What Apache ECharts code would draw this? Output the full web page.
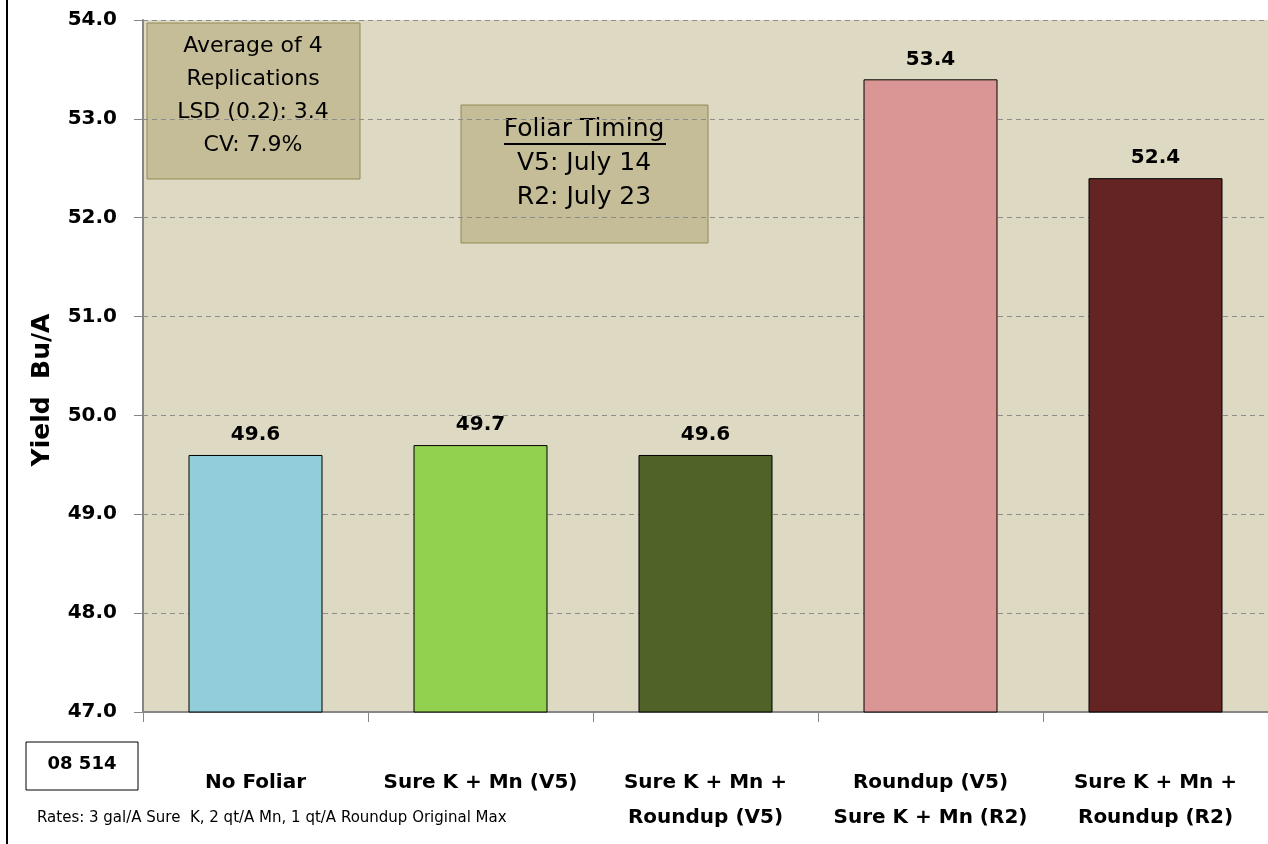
<!DOCTYPE html>
<html lang="en">

<head>
    <meta charset="UTF-8">
    <title>Yield Bu/A</title>
    <script src="https://cdn.jsdelivr.net/npm/echarts@6/dist/echarts.min.js"></script>
    <style>
        body { margin: 0; background: #ffffff; }
        #main { width: 1268px; height: 844px; }
    </style>
</head>

<body>
    <div id="main"></div>

    <script type="text/javascript">
        // 类别
        var categories = ['No Foliar', 'Sure K + Mn (V5)', 'Sure K + Mn +\nRoundup (V5)', 'Roundup (V5)\nSure K + Mn (R2)', 'Sure K + Mn +\nRoundup (R2)'];
        // 产量
        var yields = [49.6, 49.7, 49.6, 53.4, 52.4];
        // 柱子颜色
        var barColors = ['#92CDDC', '#92D050', '#4F6228', '#D99694', '#632423'];
        // y轴范围
        var yMin = 47, yMax = 54, yStep = 1;

        var font = 'DejaVu Sans';

        var seriesData = yields.map(function (v, i) {
            return { value: v, itemStyle: { color: barColors[i] } };
        });

        var option = {
            animation: false,
            textStyle: { fontFamily: font },
            grid: {
                left: 143,
                right: 0,
                top: 20,
                bottom: 132,
                show: true,
                backgroundColor: '#DDD9C3',
                borderWidth: 0
            },
            xAxis: {
                type: 'category',
                data: categories,
                axisLine: { lineStyle: { color: '#868686', width: 2 } },
                axisTick: { show: true, interval: 0, length: 10, lineStyle: { color: '#868686' } },
                axisLabel: {
                    interval: 0,
                    color: '#000',
                    fontWeight: 'bold',
                    fontSize: 20,
                    lineHeight: 35,
                    margin: 53,
                    fontFamily: font
                }
            },
            yAxis: {
                type: 'value',
                min: yMin,
                max: yMax,
                interval: yStep,
                axisLine: { show: true, lineStyle: { color: '#868686', width: 2 } },
                axisTick: { show: true, length: 9, lineStyle: { color: '#868686' } },
                axisLabel: {
                    color: '#000',
                    fontWeight: 'bold',
                    fontSize: 20,
                    margin: 26,
                    fontFamily: font,
                    formatter: function (v) { return v.toFixed(1); }
                },
                splitLine: { show: true, lineStyle: { color: '#8C8C8C', type: [5, 4], width: 1 } }
            },
            series: [{
                type: 'bar',
                data: seriesData,
                barWidth: 134,
                itemStyle: { borderColor: '#000', borderWidth: 1 },
                label: {
                    show: true,
                    position: 'top',
                    distance: 10,
                    color: '#000',
                    fontWeight: 'bold',
                    fontSize: 20,
                    fontFamily: font,
                    formatter: function (p) { return p.value.toFixed(1); }
                }
            }],
            graphic: [
                // 左边黑线
                { type: 'rect', shape: { x: 6, y: 0, width: 2, height: 844 }, style: { fill: '#000' }, silent: true },
                // y轴名称
                {
                    type: 'text', x: 42, y: 390, rotation: Math.PI / 2,
                    style: { text: 'Yield  Bu/A', fontSize: 25, fontWeight: 'bold', fontFamily: font, fill: '#000', align: 'center', verticalAlign: 'middle' }
                },
                // 试验编号
                { type: 'rect', shape: { x: 26, y: 742, width: 112, height: 48 }, style: { fill: '#fff', stroke: '#000', lineWidth: 1 } },
                {
                    type: 'text', x: 82, y: 764,
                    style: { text: '08 514', fontSize: 18, fontWeight: 'bold', fontFamily: font, fill: '#000', align: 'center', verticalAlign: 'middle' }
                },
                // 用量说明
                {
                    type: 'text', x: 37, y: 818,
                    style: { text: 'Rates: 3 gal/A Sure  K, 2 qt/A Mn, 1 qt/A Roundup Original Max', fontSize: 15, fontFamily: font, fill: '#000', align: 'left', verticalAlign: 'middle' }
                },
                // 注释框1
                { type: 'rect', shape: { x: 147, y: 23, width: 213, height: 156 }, style: { fill: '#C4BD97', stroke: '#948A54', lineWidth: 1 } },
                {
                    type: 'text', x: 253, y: 30,
                    style: { text: 'Average of 4\nReplications\nLSD (0.2): 3.4\nCV: 7.9%', fontSize: 22, lineHeight: 33, fontFamily: font, fill: '#000', align: 'center', verticalAlign: 'top' }
                },
                // 注释框2
                { type: 'rect', shape: { x: 461, y: 105, width: 247, height: 138 }, style: { fill: '#C4BD97', stroke: '#948A54', lineWidth: 1 } },
                {
                    type: 'text', x: 584, y: 112,
                    style: { text: 'Foliar Timing\nV5: July 14\nR2: July 23', fontSize: 25, lineHeight: 34, fontFamily: font, fill: '#000', align: 'center', verticalAlign: 'top' }
                },
                { type: 'rect', shape: { x: 504, y: 143, width: 162, height: 2 }, style: { fill: '#000' } }
            ]
        };

        var myChart = echarts.init(document.getElementById('main'));
        myChart.setOption(option);
    </script>
</body>

</html>
